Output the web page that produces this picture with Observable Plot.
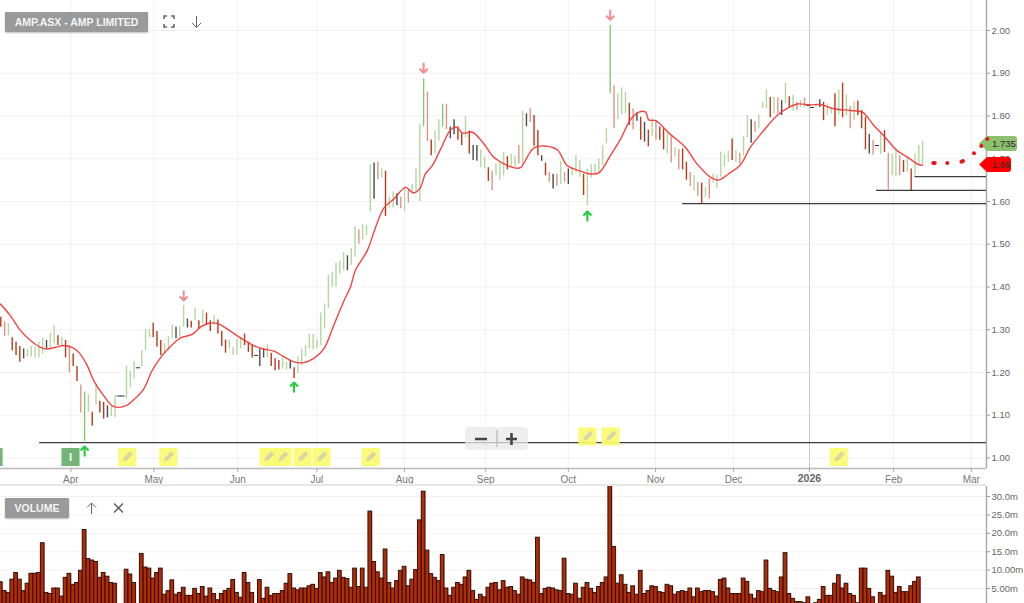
<!DOCTYPE html>
<html><head><meta charset="utf-8">
<script src="https://cdn.jsdelivr.net/npm/d3@7"></script>
<script src="https://cdn.jsdelivr.net/npm/@observablehq/plot@0.6"></script>
<style>
html,body{margin:0;padding:0;background:#fff;overflow:hidden}
#wrap{position:relative;width:1024px;height:603px;overflow:hidden;font-family:"Liberation Sans",Arial,sans-serif}
#wrap svg{display:block;background:transparent}
.abs{position:absolute}
.badge{background:#9a9a9a;color:#f4f4f4;font-size:10.5px;font-weight:bold;line-height:20px;text-align:center;box-shadow:0 1px 2px #bbb;border-radius:1px}
.tag{height:15px;line-height:15px;font-size:9.5px;color:#2a2a2a;text-align:left;padding-left:13px;box-sizing:border-box;border-radius:0 3px 3px 0;clip-path:polygon(0 50%,8px 0,100% 0,100% 100%,8px 100%)}
</style></head><body><div id="wrap"></div>
<script>
const high=[1.329,1.318,1.315,1.281,1.271,1.261,1.255,1.255,1.261,1.259,1.271,1.281,1.275,1.292,1.31,1.286,1.282,1.275,1.263,1.243,1.214,1.171,1.154,1.148,1.107,1.172,1.133,1.13,1.122,1.12,1.146,1.145,1.145,1.215,1.203,1.225,1.211,1.251,1.3,1.3,1.315,1.296,1.275,1.267,1.284,1.311,1.306,1.307,1.357,1.325,1.32,1.35,1.321,1.346,1.339,1.321,1.333,1.323,1.296,1.276,1.276,1.259,1.278,1.282,1.29,1.271,1.263,1.24,1.255,1.255,1.265,1.245,1.232,1.228,1.236,1.224,1.228,1.211,1.237,1.255,1.263,1.289,1.289,1.276,1.339,1.36,1.427,1.435,1.456,1.46,1.481,1.473,1.49,1.541,1.534,1.546,1.544,1.686,1.69,1.692,1.676,1.671,1.61,1.622,1.618,1.61,1.633,1.627,1.64,1.676,1.781,1.887,1.856,1.744,1.765,1.791,1.828,1.827,1.774,1.791,1.774,1.758,1.799,1.765,1.731,1.731,1.721,1.704,1.679,1.671,1.688,1.692,1.715,1.705,1.711,1.705,1.731,1.811,1.805,1.817,1.801,1.766,1.707,1.69,1.668,1.664,1.664,1.694,1.668,1.676,1.68,1.707,1.696,1.664,1.676,1.686,1.688,1.7,1.731,1.77,2.012,1.871,1.852,1.866,1.856,1.83,1.817,1.807,1.797,1.785,1.767,1.789,1.789,1.774,1.77,1.76,1.754,1.725,1.721,1.723,1.692,1.668,1.661,1.645,1.643,1.633,1.653,1.664,1.661,1.715,1.71,1.718,1.746,1.719,1.713,1.752,1.801,1.791,1.787,1.803,1.832,1.861,1.844,1.844,1.842,1.836,1.877,1.845,1.848,1.832,1.836,1.842,1.825,1.82,1.828,1.838,1.832,1.828,1.817,1.852,1.861,1.877,1.85,1.822,1.832,1.835,1.813,1.797,1.757,1.743,1.731,1.762,1.766,1.713,1.711,1.718,1.707,1.696,1.704,1.676,1.711,1.731,1.741];
const low=[1.306,1.284,1.286,1.251,1.24,1.224,1.232,1.236,1.236,1.234,1.234,1.243,1.255,1.255,1.267,1.263,1.263,1.234,1.199,1.214,1.179,1.105,1.039,1.107,1.074,1.124,1.105,1.091,1.094,1.097,1.094,1.145,1.145,1.138,1.164,1.185,1.211,1.214,1.251,1.282,1.282,1.259,1.24,1.243,1.251,1.279,1.279,1.282,1.306,1.304,1.304,1.323,1.302,1.314,1.31,1.296,1.31,1.29,1.261,1.245,1.255,1.24,1.24,1.255,1.263,1.247,1.234,1.24,1.214,1.234,1.234,1.214,1.204,1.206,1.208,1.206,1.208,1.186,1.197,1.216,1.236,1.255,1.253,1.255,1.263,1.302,1.35,1.4,1.4,1.43,1.438,1.438,1.45,1.47,1.5,1.51,1.52,1.575,1.605,1.651,1.655,1.565,1.585,1.585,1.59,1.583,1.577,1.596,1.62,1.622,1.6,1.775,1.74,1.707,1.711,1.741,1.774,1.768,1.747,1.756,1.743,1.731,1.749,1.711,1.696,1.694,1.679,1.676,1.647,1.626,1.66,1.65,1.66,1.674,1.682,1.679,1.688,1.684,1.775,1.785,1.729,1.707,1.694,1.66,1.645,1.629,1.635,1.64,1.645,1.64,1.66,1.668,1.657,1.614,1.59,1.655,1.665,1.665,1.684,1.735,1.852,1.77,1.791,1.803,1.805,1.778,1.768,1.788,1.743,1.739,1.728,1.752,1.743,1.743,1.721,1.711,1.69,1.704,1.674,1.674,1.65,1.635,1.624,1.612,1.594,1.609,1.606,1.643,1.63,1.658,1.68,1.692,1.696,1.692,1.688,1.707,1.749,1.736,1.762,1.77,1.817,1.817,1.796,1.805,1.805,1.801,1.828,1.82,1.811,1.813,1.82,1.82,1.825,1.82,1.82,1.82,1.789,1.801,1.805,1.775,1.803,1.796,1.801,1.77,1.789,1.801,1.77,1.721,1.711,1.708,1.731,1.71,1.715,1.627,1.66,1.658,1.66,1.668,1.668,1.626,1.66,1.684,1.686];
const tone=("r R g r r r k g g g g g k g g r g r R r r R G g r g r r k g g k k g g g k g g g "+
"r r r g g g k g g k r g r g r r g r r r g g g g r r r k k k g r r r g g k r g g "+
"g g g g g g g g g g g k g g R g g g k R g r g g k R g R g g g G R r g g G R k k "+
"r r g r k k g g r R g g g r g g R g k R r r k r R k R g R k g g g r g g g g g g "+
"G R g g g r R k r k r g R r r g R g R r r R g R r g R g g g g g r g R g g k R g "+
"g g r g R k g r g R g R k k g k r g g r g r g R g r r r k R k g r R g g R r g r g g g").split(" ");
const volume=[6.7,4.3,3.8,7.4,9.2,7.4,4.3,6.3,9,9,9.2,17.3,3.8,3.5,5,5,2.8,7.9,9,6,6.5,9.8,20.9,13,12.6,12.2,7.9,9.2,8.2,6.5,6.3,0,0,10.1,8.8,6.5,0,14.4,10.7,10.4,7.7,9.2,10.4,3.3,4.3,7.2,3.3,3.8,5.2,3,3,4.9,3.5,5.4,2.8,5,3.5,1.8,3.5,4.3,4.9,7.3,3.8,2.5,9.2,6.5,3.8,0,7.3,2.2,5.2,3,3.5,3.5,4.3,6.3,8.9,5,4.5,5,5,5.6,6,4.9,9.2,8,9.4,6.5,7.7,9.8,7.9,7.6,5.2,10.4,5.4,10.4,5.2,25.9,12.2,9.4,7.7,15.6,6.5,5,7,9.8,10.9,5.6,7.4,10,23.5,31.3,15.3,8.9,7.9,7,14.1,5,3,5.2,6.5,6,8,9.8,4.3,1.9,3.3,2.6,5.2,6.3,6.5,4.5,7,5.2,5.4,4.3,3.3,8,7.4,7.2,6.5,18.8,3.5,4.9,5.2,5,4.5,4.3,13.1,3.5,3.3,6.3,2.2,5.2,6.5,4.9,3.8,5.4,6.5,8,33,16.3,6.3,8.6,6,3.8,5.6,3.3,9.8,3.5,4.3,5.6,5.4,4,3.8,6,5.6,3.3,4,4.3,4,5,2.6,5,4,4.3,4.3,4,2.8,7.3,7.7,5,3.5,3.5,3.5,7.7,6.8,3.3,2.2,4.3,4,12.6,4.9,4.3,4,8,14.6,3.5,2.2,1.3,1.3,1,2.6,0,1,1.9,5.4,3,3,6.3,8.6,5,6.3,3.5,3,1,10.4,10.4,4.9,2.6,0,3.8,3,9.8,8.2,3.8,5.4,4,4,5.6,6.8,8,0.6];
const bars=high.map((h,i)=>({i,h,l:low[i],t:tone[i],v:volume[i]}));

const maIdx=[-0.1,2.5,5.2,7.8,10.4,12.2,14.4,16.5,18.7,20.5,22.7,24.4,27,29.7,32.7,34.9,37.5,39.7,42.4,45,47.2,50.2,52.4,54.2,56.8,59.4,62.9,66.4,69,71.7,74.3,76.9,79.5,82.6,84.8,87.4,89.2,90.1,91.8,93.1,96.2,98.4,100.6,103.2,106.3,108.3,110,111.5,113.3,115.5,118.1,119.7,121.2,123.8,126.8,129.4,132.1,134.3,136.4,138.2,139.9,142.6,146.1,148.7,152.2,154.4,157,160,162.7,165.3,167.5,169.3,170.1,171.9,175.8,179.7,182.8,186.3,188.5,191.1,194.2,196.8,200.3,203.8,206.9,209.1,212.6,215.2,218.7,223.1,226.2,229.2,231.8,235.3,238,241,242];
const maVal=[1.36,1.333,1.298,1.275,1.259,1.255,1.259,1.263,1.259,1.247,1.216,1.181,1.146,1.12,1.122,1.136,1.161,1.204,1.24,1.265,1.281,1.289,1.306,1.314,1.315,1.302,1.281,1.263,1.255,1.25,1.237,1.225,1.223,1.236,1.255,1.31,1.349,1.368,1.4,1.439,1.485,1.54,1.585,1.606,1.633,1.62,1.63,1.665,1.684,1.723,1.768,1.774,1.76,1.762,1.735,1.704,1.688,1.68,1.679,1.704,1.725,1.73,1.721,1.684,1.671,1.665,1.667,1.707,1.746,1.791,1.809,1.809,1.791,1.789,1.757,1.727,1.688,1.657,1.65,1.665,1.686,1.727,1.766,1.801,1.82,1.828,1.826,1.827,1.817,1.813,1.809,1.778,1.754,1.719,1.704,1.686,1.685];
const ma=maIdx.map((i,k)=>({i,p:maVal[k]}));

const dotIdx=[244.8,245.2,248.5,252.2,252.6,255.5,257.4,259];
const dotVal=[1.69,1.69,1.69,1.693,1.695,1.713,1.73,1.746];

const priceTicks=[1,1.1,1.2,1.3,1.4,1.5,1.6,1.7,1.8,1.9,2];
const volTicks=[5,10,15,20,25,30];
const volLabels=["5.00m","10.00m","15.0m","20.0m","25.0m","30.0m"];
const monthPos=[18.4,40.2,62.2,83,106,127.3,149,171.9,192.4,212.3,234.4,254.8];
const monthLabels=["Apr","May","Jun","Jul","Aug","Sep","Oct","Nov","Dec","2026","Feb","Mar"];

const supportLevel=[1.036,1.595,1.626,1.658];
const supportFrom=[10.2,179,229.9,240];

const upIdx=[22,77,154], upPrice=[1.015,1.165,1.565];
const downIdx=[48,111,160], downPrice=[1.38,1.913,2.037];
const noteIdx=[33.2,44,70.3,74,79.2,84.2,97.1,154,160.1,220];
const notePrice=[1.0023,1.0023,1.0023,1.0023,1.0023,1.0023,1.0023,1.0503,1.0503,1.0023];
const infoIdx=[-1.9,18.3], infoPrice=[1.0023,1.0023];

const xDomain=[-0.079,258.78], yDomain=[0.9754,2.0702];
const toneDomain=["g","G","r","R","k"], toneRange=["#b4d6a0","#8ac56c","#b93a1a","#dc9588","#4a4a4a"];
const font='"Liberation Sans",Arial,sans-serif';
const wrap=document.getElementById("wrap");
const notes=noteIdx.map((i,k)=>({i,p:notePrice[k]}));
const pencil={draw(c,l,r){c.moveTo(0,0);c.lineTo(r,-3.5);c.lineTo(r,-l);c.lineTo(-r,-l);c.lineTo(-r,-3.5);c.closePath();}};
const chevron={draw(c,l,r){c.moveTo(0,0);c.lineTo(0,-l);c.moveTo(-r,r-l);c.lineTo(0,-l);c.lineTo(r,r-l);}};

const price=Plot.plot({
  width:1024,height:486,marginTop:0,marginBottom:18,marginLeft:0,marginRight:38,
  style:{fontFamily:font,background:"transparent",overflow:"visible"},
  x:{domain:xDomain,axis:null},
  y:{domain:yDomain,axis:null},
  color:{domain:toneDomain,range:toneRange},
  marks:[
    Plot.gridY(priceTicks,{stroke:"#000",strokeOpacity:0.055}),
    Plot.gridX(monthPos.filter((d,k)=>monthLabels[k]!=="2026"),{stroke:"#000",strokeOpacity:0.055}),
    Plot.gridX(monthPos.filter((d,k)=>monthLabels[k]==="2026"),{stroke:"#c8c8c8",strokeOpacity:1}),
    Plot.ruleX([xDomain[1]],{stroke:"#aaa",strokeWidth:1.5}),
    Plot.ruleY([yDomain[0]],{stroke:"#bbb",strokeWidth:1.5}),
    Plot.axisY(priceTicks,{anchor:"right",tickSize:3,tickPadding:2,tickFormat:d=>d.toFixed(2),fontSize:9.5,color:"#666",stroke:"#999",label:null}),
    Plot.axisX(monthPos,{anchor:"bottom",tickSize:4,tickPadding:3,tickFormat:d=>{const l=monthLabels[monthPos.indexOf(d)];return l==="2026"?"":l;},fontSize:10,color:"#777",stroke:"#aaa",label:null}),
    Plot.text(["2026"],{x:()=>monthPos[monthLabels.indexOf("2026")],y:()=>0.9515,text:d=>d,fontWeight:"bold",fontSize:10.5,fill:"#666"}),
    Plot.ruleX(bars.filter(d=>d.h>d.l),{x:"i",y1:"l",y2:"h",stroke:"t",strokeWidth:1.4}),
    Plot.link(bars.filter(d=>d.h===d.l),{x1:d=>d.i-0.55,x2:d=>d.i+0.55,y1:"h",y2:"h",stroke:"#333",strokeWidth:1}),
    Plot.ruleY(supportLevel,{y:d=>d,x1:(d,k)=>supportFrom[k],x2:xDomain[1],stroke:"#3c3c3c",strokeWidth:1.2}),
    Plot.line(ma,{x:"i",y:"p",stroke:"#f23a3a",strokeWidth:1.4,curve:"catmull-rom",strokeOpacity:0.95}),
    Plot.dot(notes,{x:"i",y:"p",symbol:"square",r:10.2,fill:"#fbfa6e",stroke:"none",fillOpacity:0.92}),
    Plot.vector(notes,{x:"i",y:"p",rotate:45,length:12,r:2.1,anchor:"middle",shape:pencil,fill:"#d6d6a8",stroke:"none"}),
    Plot.dot(infoIdx,{x:d=>d,y:(d,k)=>infoPrice[k],symbol:"square",r:10.2,fill:"#72b576",stroke:"none",clip:true}),
    Plot.text(["I"],{x:()=>infoIdx[1],y:()=>infoPrice[1],text:d=>d,fill:"#fff",fontSize:11,fontWeight:"bold"}),
    Plot.vector(upIdx,{x:d=>d,y:(d,k)=>upPrice[k],rotate:0,length:10,r:4,anchor:"middle",shape:chevron,stroke:"#22cc44",strokeWidth:2.1,strokeLinecap:"butt"}),
    Plot.vector(downIdx,{x:d=>d,y:(d,k)=>downPrice[k],rotate:180,length:10,r:4,anchor:"middle",shape:chevron,stroke:"#f09090",strokeWidth:2.1,strokeLinecap:"butt"})
  ]
});
const vol=Plot.plot({
  width:1024,height:117,marginTop:0,marginBottom:0,marginLeft:0,marginRight:38,
  style:{fontFamily:font,background:"transparent",overflow:"visible"},
  x:{domain:xDomain,axis:null},
  y:{domain:[0.924,32.72],axis:null},
  marks:[
    Plot.gridY(volTicks,{stroke:"#000",strokeOpacity:0.05}),
    Plot.ruleX([xDomain[1]],{stroke:"#aaa",strokeWidth:1.5}),
    Plot.axisY(volTicks,{anchor:"right",tickSize:3,tickPadding:2,tickFormat:d=>volLabels[volTicks.indexOf(d)],fontSize:9.5,color:"#666",stroke:"#999",label:null}),
    Plot.rect(bars.filter(d=>d.v>0),{x1:d=>d.i-0.48,x2:d=>d.i+0.48,y1:()=>0,y2:"v",fill:"#aaa",fillOpacity:0.6,dx:1,clip:true}),
    Plot.rect(bars.filter(d=>d.v>0),{x1:d=>d.i-0.48,x2:d=>d.i+0.48,y1:()=>0,y2:"v",fill:"#b82a05",stroke:"#2a1208",strokeWidth:1,clip:true})
  ]
});
const forecast=Plot.plot({
  width:1024,height:486,marginTop:0,marginBottom:18,marginLeft:0,marginRight:38,
  style:{background:"transparent",overflow:"visible"},
  x:{domain:xDomain,axis:null},
  y:{domain:yDomain,axis:null},
  marks:[Plot.dot(dotIdx,{x:d=>d,y:(d,k)=>dotVal[k],r:2,fill:"#e8141c",stroke:"none"})]
});
for(const [el,top] of [[price,0],[vol,486],[forecast,0]]){el.style.position="absolute";el.style.left="0";el.style.top=top+"px";}
wrap.append(price,vol);
wrap.insertAdjacentHTML("beforeend",`
<div class="abs" style="left:0;top:484px;width:986px;height:2px;background:#e6e6e6"></div>
<div class="abs badge" style="left:5px;top:12px;width:143px">AMP.ASX - AMP LIMITED</div>
<svg class="abs" style="left:163px;top:15px" width="44" height="14" fill="none" stroke="#666" stroke-width="1.6">
<path d="M1 4V1H4M8 1H11V4M11 9V12H8M4 12H1V9"/>
<path stroke-width="1" d="M33.5 1V12M29 8L33.5 12.5L38 8"/></svg>
<div class="abs badge" style="left:5px;top:498px;width:64px">VOLUME</div>
<svg class="abs" style="left:85px;top:501px" width="42" height="14" fill="none" stroke="#666">
<path d="M6.5 2V13M2 6.5L6.5 2L11 6.5"/><path stroke-width="1.6" d="M29 2.5L38 11.5M38 2.5L29 11.5"/></svg>
<div class="abs" style="left:465px;top:427px;width:63px;height:23px;background:rgba(232,232,232,.75);border-radius:4px"></div>
<svg class="abs" style="left:465px;top:427px" width="63" height="23" stroke="#444" stroke-width="2.6" fill="none">
<path d="M10 12H22M41 12H52M46.5 6V18"/><path stroke="#aaa" stroke-width="1" d="M32 3V20"/></svg>
<div class="abs tag" style="left:979px;top:136px;width:38px;background:#8dbf70">1.735</div>
<div class="abs tag" style="left:979px;top:157px;width:32px;background:#fb0000">1.69</div>
`);
wrap.append(forecast);
</script></body></html>
